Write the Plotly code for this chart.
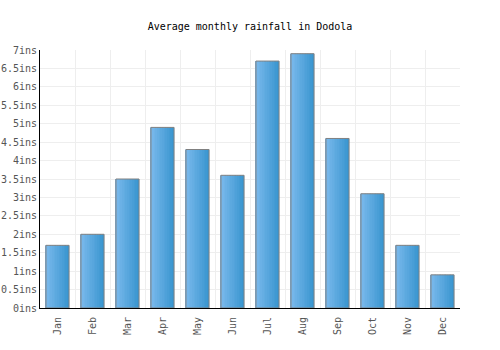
import plotly.graph_objects as go

months = ["Jan", "Feb", "Mar", "Apr", "May", "Jun", "Jul", "Aug", "Sep", "Oct", "Nov", "Dec"]
rainfall = [1.7, 2.0, 3.5, 4.9, 4.3, 3.6, 6.7, 6.9, 4.6, 3.1, 1.7, 0.9]

title_text = "Average monthly rainfall in Dodola"
font_family = "DejaVu Sans Mono, monospace"

bar_w = 0.66
n_slices = 14
c0 = (122, 185, 236)
c1 = (58, 150, 208)

fig = go.Figure()
xs = list(range(len(months)))
for k in range(n_slices):
    t = k / (n_slices - 1)
    col = "rgb({},{},{})".format(*[round(a + (b - a) * t) for a, b in zip(c0, c1)])
    fig.add_trace(go.Bar(
        x=xs, y=rainfall, width=bar_w / n_slices + 0.002,
        offset=-bar_w / 2 + k * bar_w / n_slices,
        marker=dict(color=col, line=dict(width=0)),
        hoverinfo="skip", showlegend=False,
    ))
fig.add_trace(go.Bar(
    x=xs, y=rainfall, width=bar_w,
    marker=dict(color="rgba(0,0,0,0)", line=dict(color="#808080", width=1)),
    showlegend=False,
))

fig.update_layout(
    width=500, height=350,
    margin=dict(l=40, r=40, t=50, b=42),
    paper_bgcolor="white", plot_bgcolor="white",
    barmode="overlay",
    title=dict(text=title_text, x=0.5, xanchor="center", y=0.925, yanchor="middle",
               font=dict(family=font_family, size=10, color="#000")),
    font=dict(family=font_family, size=10, color="#555"),
)
fig.update_xaxes(
    tickmode="array", tickvals=xs, ticktext=months, tickangle=-90,
    range=[-0.5, 11.5], showgrid=False, automargin=False,
    showline=True, linecolor="#000", linewidth=1, ticks="",
    zeroline=False, ticklabelstandoff=4,
    minor=dict(tickvals=[i - 0.5 for i in range(13)], showgrid=True,
               gridcolor="#eeeeee", gridwidth=1, ticks=""),
)
fig.update_yaxes(
    range=[0, 7], dtick=0.5, ticksuffix="ins", showgrid=True, gridcolor="#eeeeee",
    gridwidth=1, showline=True, linecolor="#000", linewidth=1, ticks="",
    zeroline=False, automargin=False,
)
fig.write_html("out.html")
